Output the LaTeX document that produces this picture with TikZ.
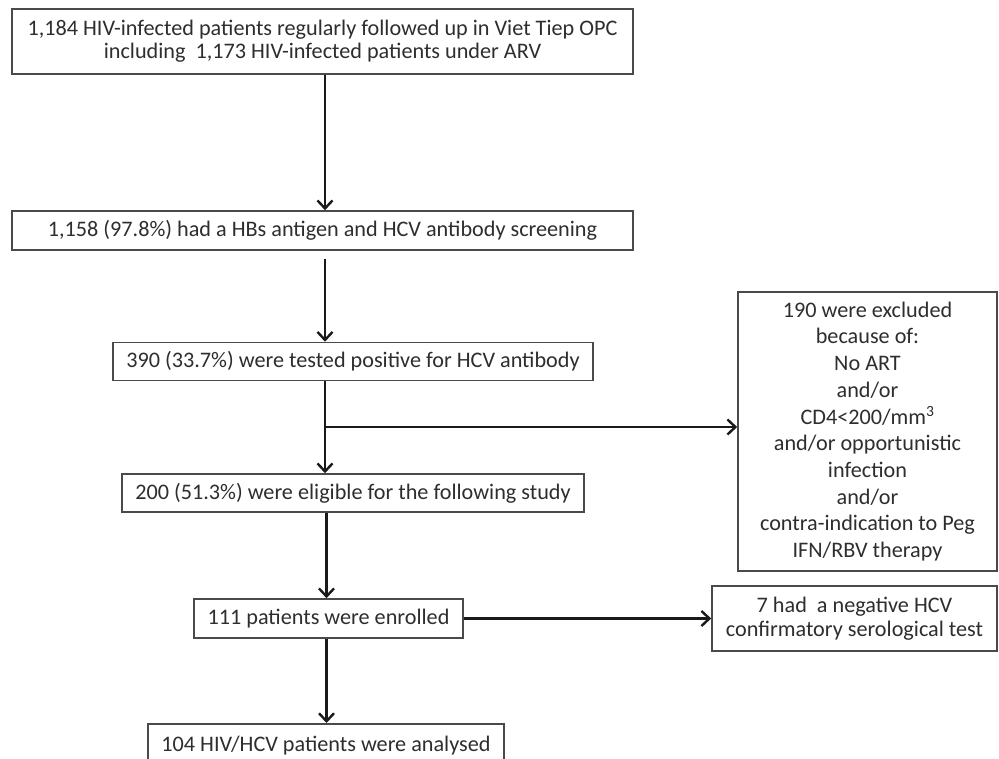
\documentclass[tikz,border=0pt]{standalone}
\usepackage{fontspec}
\setmainfont{Carlito}
\usetikzlibrary{arrows.meta,calc}
\definecolor{txt}{HTML}{2E2E2E}
\definecolor{bord}{HTML}{4A4A4A}
\definecolor{arrc}{HTML}{1A1A1A}
\tikzset{
  flowbox/.style={draw=bord, line width=1.6pt, rectangle, inner sep=0pt,
    align=center, text=txt, font=\fontsize{22.2}{23}\selectfont},
  arr/.style={draw=arrc, line width=2.4pt,
    -{Straight Barb[length=8pt,width=15pt,line width=2.4pt]}}
}
\begin{document}
\begin{tikzpicture}[x=1pt,y=-1pt]
\path[use as bounding box, clip] (0,0) rectangle (999,759);
\fill[white] (0,0) rectangle (999,759);

\coordinate (col) at (325,0);

\node[flowbox, minimum width=621pt, minimum height=65pt] (b1) at (322.5,41.5)
  {1,184 HIV-infected patients regularly followed up in Viet Tiep OPC\\including\ \ 1,173 HIV-infected patients under ARV};
\node[flowbox, minimum width=621pt, minimum height=39pt] (b2) at (322.5,230.5)
  {1,158 (97.8\%) had a HBs antigen and HCV antibody screening};
\node[flowbox, minimum width=480pt, minimum height=38pt] (b3) at (353,361.5)
  {390 (33.7\%) were tested positive for HCV antibody};
\node[flowbox, minimum width=462pt, minimum height=38pt] (b4) at (353,493)
  {200 (51.3\%) were eligible for the following study};
\node[flowbox, minimum width=259pt, minimum height=279pt,
      font=\fontsize{22.2}{26.7}\selectfont] (b5) at (867.5,431.5)
  {190 were excluded\\because of:\\No ART\\and/or\\CD4<200/mm\textsuperscript{3}\\and/or opportunistic\\infection\\and/or\\contra-indication to Peg\\IFN/RBV therapy};
\node[flowbox, minimum width=269pt, minimum height=39pt] (b6) at (328.5,618.5)
  {111 patients were enrolled};
\node[flowbox, minimum width=285pt, minimum height=65pt,
      font=\fontsize{22.2}{24.5}\selectfont] (b7) at (854.5,618.5)
  {7 had\ \ a negative HCV\\confirmatory serological test};
\node[flowbox, minimum width=356pt, minimum height=44pt, anchor=north] (b8) at (326,723)
  {104 HIV/HCV patients were analysed};

\coordinate (br) at (325,427);

\draw[arr] (b1.south -| col) -- (b2.north -| col);
\draw[arr] ([yshift=-8pt]b2.south -| col) -- (b3.north -| col);
\draw[arr] (b3.south -| col) -- (b4.north -| col);
\draw[arr] (br) -- (br -| b5.west);
\draw[arr] ([xshift=1.5pt]b4.south -| col) -- ([xshift=1.5pt]b6.north -| col);
\draw[arr] (b6.east) -- (b7.west);
\draw[arr] ([xshift=1.5pt]b6.south -| col) -- ([xshift=1.5pt]b8.north -| col);
\end{tikzpicture}
\end{document}
